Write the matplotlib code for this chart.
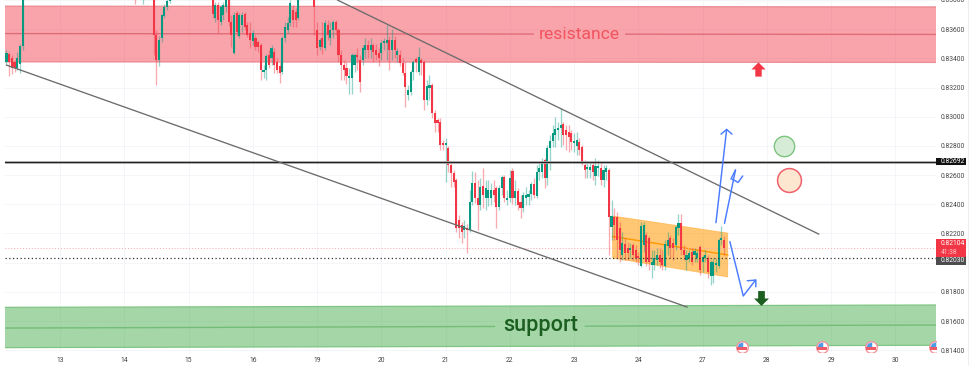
import matplotlib
matplotlib.use("Agg")
import matplotlib.pyplot as plt
import numpy as np
from matplotlib.lines import Line2D
from matplotlib.path import Path
from matplotlib.patches import Polygon, Rectangle

# hourly candles, prices in 1e-5 units; candles above the view are left out
bars = [*range(0, 7), 48, 51, *range(55, 62), *range(77, 110), *range(115, 269)]
opens = [83374,83429,83402,83374,83333,83361,83484, 83854,83813,
 83833,83559,83388,83539,83689,83751,83792,
 83820,83676,83765,83648,83696,83751,83806,83648,83436,83710,83552,83628,83703,83628,83573,83518,83539,83511,83491,83306,83320,83422,83402,83443,83374,83347,83306,83539,83594,83641,83730,83717,83676,
 83820,83594,83477,83539,83470,83628,83539,83594,83648,83594,83422,83354,83333,83265,83265,83354,83422,83388,83388,83457,83491,83457,83491,83457,83436,83436,83504,83504,83525,83457,83525,83422,83422,83367,83299,83148,83169,83306,83395,83306,83388,83374,83114,83196,83217,83025,82977,82963,82820,82806,82785,82669,82614,82566,82292,82258,82224,82237,82224,82416,82545,82443,82395,82525,82443,82443,82443,82498,82511,82381,82511,82587,82429,82443,82628,82443,82491,82416,82374,82443,82450,82470,82539,82457,82621,82621,82703,82580,82785,82833,82874,82909,82922,82950,82909,82895,82888,82820,82799,82826,82792,82669,82642,82635,82669,82594,82648,82648,82566,82621,82635,82244,82313,82313,82237,82053,82128,82100,82087,82121,82087,82046,81977,82121,82189,82169,81984,81984,82018,82053,82032,81977,82114,82169,82135,82121,82237,82272,82087,82018,82032,82073,82053,82032,82107,82005,82032,82032,81909,81909,81984,81977,82155,82155]
closes = [83436,83374,83333,83333,83402,83484,83867, 83820,83854,
 83559,83388,83525,83696,83751,83792,83833,
 83703,83765,83662,83751,83765,83799,83648,83559,83696,83580,83696,83696,83614,83559,83525,83573,83477,83477,83320,83320,83415,83354,83470,83354,83320,83299,83539,83614,83641,83778,83662,83662,83820,
 83751,83470,83525,83477,83641,83559,83594,83648,83594,83422,83354,83320,83278,83278,83422,83422,83409,83237,83470,83491,83457,83491,83443,83422,83402,83504,83518,83525,83457,83525,83457,83450,83367,83299,83203,83183,83306,83374,83374,83409,83367,83114,83210,83217,83025,82957,82957,82806,82806,82820,82669,82614,82552,82237,82237,82210,82251,82224,82416,82545,82443,82395,82518,82463,82511,82498,82498,82463,82381,82511,82587,82443,82443,82580,82443,82491,82395,82374,82463,82463,82470,82539,82463,82621,82648,82689,82580,82785,82833,82888,82915,82922,82943,82874,82874,82861,82826,82833,82840,82772,82676,82635,82655,82655,82621,82662,82662,82566,82635,82648,82313,82320,82258,82155,82087,82135,82066,82066,82100,82053,82032,82032,82251,82258,82005,82005,82005,82032,82053,82005,81984,82128,82155,82100,82100,82244,82272,82087,82053,82053,82066,82005,82080,82066,81950,82039,82053,81936,82005,82005,81998,82155,82169,82104]
highs = [83457,83443,83422,83388,83443,83498,83902, 83881,83881,
 83854,83594,83552,83703,83772,83813,83854,
 83840,83785,83785,83765,83785,83813,83826,83696,83717,83724,83710,83717,83717,83648,83648,83594,83559,83525,83504,83354,83429,83457,83491,83470,83402,83374,83552,83648,83683,83799,83765,83744,83840,
 83840,83648,83539,83648,83662,83662,83648,83662,83662,83607,83457,83388,83374,83333,83436,83436,83470,83422,83491,83539,83525,83539,83504,83498,83470,83525,83539,83628,83552,83600,83552,83470,83457,83402,83374,83217,83320,83388,83409,83477,83402,83388,83251,83285,83231,83046,82991,82991,82840,82854,82799,82689,82635,82580,82326,82279,82292,82265,82498,82628,82621,82566,82580,82648,82566,82566,82545,82566,82525,82532,82600,82600,82498,82635,82648,82566,82511,82463,82484,82518,82498,82552,82580,82669,82689,82717,82717,82806,82874,82943,82998,82963,83059,82963,82943,82943,82909,82888,82895,82854,82806,82703,82683,82689,82689,82717,82703,82689,82669,82669,82648,82429,82374,82347,82279,82210,82169,82141,82135,82135,82121,82073,82279,82279,82210,82183,82087,82087,82100,82100,82087,82155,82210,82189,82169,82258,82333,82333,82121,82087,82087,82100,82100,82087,82121,82053,82087,82053,82018,82032,82032,82169,82251,82183]
lows = [83361,83278,83292,83306,83320,83299,83457, 83772,83772,
 83422,83217,83347,83511,83676,83730,83778,
 83676,83648,83573,83628,83662,83717,83621,83477,83429,83552,83539,83580,83594,83546,83470,83491,83457,83443,83251,83265,83251,83333,83354,83299,83299,83231,83292,83511,83573,83621,83614,83614,83662,
 83559,83422,83457,83429,83457,83525,83491,83539,83559,83374,83251,83251,83224,83155,83155,83306,83320,83169,83354,83402,83402,83402,83374,83388,83347,83388,83457,83388,83320,83388,83402,83374,83347,83285,83066,83114,83148,83251,83306,83285,83285,83046,83080,83114,82991,82895,82895,82772,82772,82552,82621,82518,82518,82210,82169,82135,82169,82066,82210,82395,82409,82224,82361,82374,82361,82388,82395,82416,82237,82361,82463,82416,82395,82416,82402,82395,82361,82306,82347,82395,82395,82429,82443,82443,82566,82580,82511,82532,82635,82792,82792,82840,82792,82806,82772,82758,82772,82758,82737,82737,82669,82580,82580,82580,82566,82532,82594,82532,82518,82566,82053,82155,82155,82032,82005,82018,82018,82018,82032,82018,82005,81984,81970,82073,81977,81950,81895,81950,81984,81964,81950,81950,82053,82032,82018,82087,82189,82053,82018,81950,82005,81984,82005,82005,81916,81936,82005,81895,81847,81861,81936,81964,82121,82053]

price_ticks = [83800,83600,83400,83200,83000,82800,82600,82400,82200,82000,81800,81600,81400]
day_bars = [20,44,68,92,116,140,164,188,212,236,260,284,308,332]
day_labels = ["13","14","15","16","19","20","21","22","23","24","27","28","29","30"]

resistance_top = [83758,83753]; resistance_bottom = [83376,83372]; resistance_mid = [83570,83564]
support_top = [81694,81710]; support_bottom = [81418,81434]; support_mid = [81552,81573]

upper_trend_x = [123.7,303.4]; upper_trend_y = [83799,82196]
lower_trend_x = [0,254.2]; lower_trend_y = [83354,81696]

channel_x = [226.4,269.4]
channel_top = [82320,82203]; channel_bottom = [82032,81902]; channel_mid = [82180,82053]

level_price = 82692; pending_price = 82030; last_price = 82104

GREEN = "#089981"; RED = "#f23645"; BLUE = "#4a7bff"
plt.rcParams['font.family'] = ['Roboto', 'DejaVu Sans']

def p(values):
    return np.asarray(values, dtype=float) / 1e5

fig = plt.figure(figsize=(9.74, 3.66), dpi=100, facecolor="white")
ax = fig.add_axes([5/974, 14/366, 931/974, 352/366])
ax.set_facecolor("white")
XL, XR = -0.56, 347.2
YB, YT = 0.81388, 0.83799
ax.set_xlim(XL, XR); ax.set_ylim(YB, YT)
for s in ax.spines.values():
    s.set_visible(False)

# grid & ticks
ax.set_yticks(p(price_ticks))
ax.set_yticklabels([f"{v:.5f}" if v != 0.82 else "" for v in p(price_ticks)])
ax.yaxis.tick_right()
ax.set_xticks(day_bars); ax.set_xticklabels(day_labels)
ax.tick_params(axis="both", length=0, labelsize=4.9, labelcolor="#444444")
ax.tick_params(axis="y", pad=3); ax.tick_params(axis="x", pad=3.6)
ax.grid(True, color="#f4f5f8", lw=0.7); ax.set_axisbelow(True)

xz = np.array([XL, XR])
# zones
ax.add_patch(Polygon([(XL,p(resistance_top)[0]),(XR,p(resistance_top)[1]),(XR,p(resistance_bottom)[1]),(XL,p(resistance_bottom)[0])],
             fc="#f23645", alpha=0.45, ec="none", zorder=1))
ax.add_patch(Polygon([(XL,p(support_top)[0]),(XR,p(support_top)[1]),(XR,p(support_bottom)[1]),(XL,p(support_bottom)[0])],
             fc="#4caf50", alpha=0.5, ec="none", zorder=1))
for yy in (resistance_top, resistance_bottom):
    ax.plot(xz, p(yy), color="#e5707c", lw=0.9, alpha=.7, zorder=1.1)
for yy in (support_top, support_bottom):
    ax.plot(xz, p(yy), color="#7fc583", lw=0.9, zorder=1.1)

def broken(mid, gap, color):
    m = p(mid)
    g0, g1 = np.interp(gap, xz, m)
    ax.plot([XL, gap[0]], [m[0], g0], color=color, lw=1.0, zorder=1.2)
    ax.plot([gap[1], XR], [g1, m[1]], color=color, lw=1.0, zorder=1.2)
broken(resistance_mid, [196.8, 231.3], "#e06c78")
broken(support_mid, [182.3, 216.2], "#74bd78")
ax.text(214, np.mean(p(resistance_mid)), "resistance", color="#f2545f", fontsize=12.6,
        ha="center", va="center", zorder=6)
ax.text(199.5, 0.81573, "support", color="#1b5e20", fontsize=15.6, fontweight="medium",
        ha="center", va="center", zorder=6)

# orange channel
cx = channel_x
ax.add_patch(Polygon([(cx[0],p(channel_top)[0]),(cx[1],p(channel_top)[1]),(cx[1],p(channel_bottom)[1]),(cx[0],p(channel_bottom)[0])],
             fc="#ff9800", alpha=0.55, ec="#ffa726", lw=0.6, zorder=2))
ax.plot(cx, p(channel_mid), color="#ff9800", lw=1.0, zorder=2.1)

# candles
bars_a = np.array(bars); o = p(opens); c = p(closes); h = p(highs); l = p(lows)
up = c >= o
cols = np.where(up, GREEN, RED)
ax.vlines(bars_a, l, h, colors=cols, lw=0.95, alpha=0.42, zorder=3)
ax.bar(bars_a, np.maximum(np.abs(c-o), 0.00004), bottom=np.minimum(o, c), width=0.78, color=cols, linewidth=0, zorder=3.1)

# levels
ax.axhline(p(level_price), color="#c4c4c4", lw=1.9, zorder=3.4)
ax.axhline(p(level_price), color="#222222", lw=1.0, zorder=3.5)
ax.axhline(p(pending_price), color="#333333", lw=0.9, ls=(0,(1,2)), zorder=3.5)
ax.axhline(p(last_price), color="#f7a5ac", lw=0.7, ls=(0,(1,2)), zorder=2.5)

# trend lines
ax.plot(upper_trend_x, p(upper_trend_y), color="#6b6b6b", lw=0.95, zorder=4)
ax.plot(lower_trend_x, p(lower_trend_y), color="#6b6b6b", lw=0.95, zorder=4)

# blue arrows
arrows = [
    ([265.0,269.0], [82274,82913]), ([266.9,269.0,271.0], [82881,82913,82881]),
    ([268.2,272.3], [82270,82635]), ([270.6,272.3], [82573,82635]),
    ([271.0,273.3,275.0], [82573,82550,82594]),
    ([270.2,275.2,279.8], [82144,81772,81881]), ([276.7,279.9,279.9], [81876,81881,81835]),
]
for xs, ys in arrows:
    ax.plot(xs, p(ys), color=BLUE, lw=1.05, zorder=5, solid_capstyle="round", solid_joinstyle="round")

# circles
ax.scatter([290.4],[p(82797)], s=215, fc="#d6ecd7", ec="#7cc47f", lw=1.0, zorder=5)
ax.scatter([292.3],[p(82564)], s=295, fc="#fde7d0", ec="#f0606c", lw=1.1, zorder=5)

# block arrows
block_up = Path([(-.45,0),(-1,0),(0,1),(1,0),(.45,0),(.45,-1),(-.45,-1),(-.45,0)], closed=True)
block_dn = Path([(-.45,0),(-1,0),(0,-1),(1,0),(.45,0),(.45,1),(-.45,1),(-.45,0)], closed=True)
ax.scatter([280.7],[p(83325)], marker=block_up, s=105, c="#f23645", lw=0, zorder=5)
ax.scatter([281.8],[p(81760)], marker=block_dn, s=115, c="#1b5e20", lw=0, zorder=5)

# flags
flag_x = [274.6,304.8,322.8,346.8]; flag_y = [81424]*4
ax.scatter(flag_x, p(flag_y), s=70, fc="white", ec="#f4959c", lw=1.0, zorder=5)
stripe = Path([(-1,-.6),(1,-.6),(1,-.1),(-1,-.1),(-1,-.6)], closed=True)
canton = Path([(-1,.1),(-.7,.75),(0,1),(.15,1),(.15,.1),(-1,.1)], closed=True)
ax.scatter(flag_x, p(flag_y), marker=stripe, s=50, c="#ef5a66", lw=0, zorder=5.1)
ax.scatter(flag_x, p(flag_y), marker=canton, s=50, c="#4b9be8", lw=0, zorder=5.1)

# price tags on the scale
tr = ax.get_yaxis_transform()
tagw = 30/931
def tag(y0, y1, color):
    ax.add_patch(Rectangle((1.0, y0), tagw, y1-y0, transform=tr, fc=color, ec="none", clip_on=False, zorder=7))
tx = 1 + 4.5/931
tag(p(82692)-0.00025, p(82692)+0.00025, "#111111")
ax.text(tx, p(82692), "0.82692", transform=tr, color="white", fontsize=4.9, va="center", ha="left", zorder=8, clip_on=False)
tag(p(82040), p(82165), RED)
ax.text(tx, p(82130), "0.82104", transform=tr, color="white", fontsize=4.9, va="center", ha="left", zorder=8)
ax.text(tx, p(82072), "41:38", transform=tr, color="#ffc4c9", fontsize=4.9, va="center", ha="left", zorder=8)
tag(p(81985), p(82040), "#4d4d4d")
ax.text(tx, p(82012), "0.82030", transform=tr, color="white", fontsize=4.9, va="center", ha="left", zorder=8)

fig.add_artist(Line2D([968/974,968/974],[0,1], color="#eeeeee", lw=0.8))
fig.savefig("out.png", dpi=100, facecolor="white")
